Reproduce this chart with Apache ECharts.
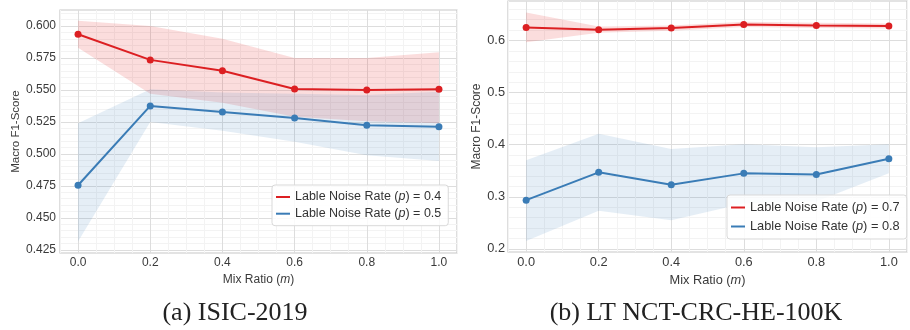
<!DOCTYPE html>
<html>
<head>
<meta charset="utf-8">
<script src="https://cdn.jsdelivr.net/npm/echarts@6/dist/echarts.min.js"></script>
<style>html,body{margin:0;padding:0;background:#fff}#c{width:910px;height:330px}</style>
</head>
<body>
<div id="c"></div>
<script>
// ---- data ----
const mixRatio = [0.0, 0.2, 0.4, 0.6, 0.8, 1.0];
const xTickLabels = [0.0, 0.2, 0.4, 0.6, 0.8, 1.0];

// (a) ISIC-2019
const isicNames = ['Lable Noise Rate (p) = 0.4', 'Lable Noise Rate (p) = 0.5'];
const isicP04Mean  = [0.5935, 0.5735, 0.5650, 0.5508, 0.5500, 0.5505];
const isicP04Upper = [0.6040, 0.6000, 0.5900, 0.5750, 0.5750, 0.5795];
const isicP04Lower = [0.5830, 0.5470, 0.5400, 0.5290, 0.5255, 0.5240];
const isicP05Mean  = [0.4755, 0.5375, 0.5328, 0.5281, 0.5224, 0.5213];
const isicP05Upper = [0.5240, 0.5505, 0.5480, 0.5470, 0.5460, 0.5485];
const isicP05Lower = [0.4315, 0.5250, 0.5180, 0.5095, 0.4990, 0.4945];
const isicYTickLabels = [0.425, 0.450, 0.475, 0.500, 0.525, 0.550, 0.575, 0.600];

// (b) LT NCT-CRC-HE-100K
const nctNames = ['Lable Noise Rate (p) = 0.7', 'Lable Noise Rate (p) = 0.8'];
const nctP07Mean  = [0.625, 0.621, 0.624, 0.631, 0.629, 0.628];
const nctP07Upper = [0.654, 0.627, 0.629, 0.636, 0.634, 0.633];
const nctP07Lower = [0.597, 0.615, 0.619, 0.626, 0.624, 0.623];
const nctP08Mean  = [0.2935, 0.347, 0.323, 0.345, 0.343, 0.373];
const nctP08Upper = [0.370, 0.421, 0.392, 0.401, 0.395, 0.401];
const nctP08Lower = [0.215, 0.273, 0.255, 0.287, 0.291, 0.345];
const nctYTickLabels = [0.2, 0.3, 0.4, 0.5, 0.6];

const captions = ['(a) ISIC-2019', '(b) LT NCT-CRC-HE-100K'];

// ---- style ----
const RED = '#dc1f22', BLUE = '#3a7cb6';
const FONT = 'Liberation Sans';
const TXT = '#3a3a3a';
const MAJOR = '#dddddd', MINOR = '#f3f3f3', NONE = 'rgba(0,0,0,0)';

function isTick(list, v) { return list.some(t => Math.abs(t - v) < 1e-7); }

function bandSeries(lo, hi, color, gi) {
  return {
    type: 'custom', xAxisIndex: gi, yAxisIndex: gi, silent: true, z: 1,
    data: mixRatio.map((x, i) => [x, lo[i], hi[i]]),
    encode: { x: 0, y: [1, 2] },
    renderItem: function (params, api) {
      if (params.dataIndex !== 0) return null;
      const n = params.dataInsideLength;
      const top = [], bot = [];
      for (let i = 0; i < n; i++) {
        top.push(api.coord([api.value(0, i), api.value(2, i)]));
        bot.push(api.coord([api.value(0, i), api.value(1, i)]));
      }
      return { type: 'polygon', shape: { points: top.concat(bot.reverse()) }, style: { fill: color } };
    }
  };
}
function lineSeries(name, mean, color, gi) {
  return {
    type: 'line', name: name, xAxisIndex: gi, yAxisIndex: gi, z: 3,
    data: mixRatio.map((x, i) => [x, mean[i]]),
    symbol: 'circle', symbolSize: 7, showSymbol: true,
    lineStyle: { width: 2, color: color }, itemStyle: { color: color }
  };
}

function xAxis(gi, fs) {
  return {
    type: 'value', gridIndex: gi, min: -0.05, max: 1.05, interval: 0.05,
    axisLine: { show: false }, axisTick: { show: false },
    axisLabel: { margin: 4, fontSize: fs, color: TXT, fontFamily: FONT,
      formatter: v => isTick(xTickLabels, v) ? v.toFixed(1) : '' },
    splitLine: { show: true, lineStyle: { width: 1, color: [MINOR, MAJOR, MINOR, MINOR] } },
    name: '{a|Mix Ratio (}{b|m}{a|)}', nameLocation: 'middle', nameGap: 14,
    nameTextStyle: { rich: {
      a: { fontSize: fs, color: TXT, fontFamily: FONT },
      b: { fontSize: fs, color: TXT, fontFamily: FONT, fontStyle: 'italic' } } }
  };
}

const isicColors = [];
for (let i = 0; i < 10; i++) isicColors.push(i === 1 ? MAJOR : (i % 2 === 1 ? MINOR : NONE));
const nctColors = [];
for (let i = 0; i < 50; i++) nctColors.push(i === 3 ? MAJOR : ((i - 3) % 10 === 0 ? MINOR : NONE));

function legend(names, left, top, fs, lh, gap) {
  return {
    data: names, left: left, top: top, orient: 'vertical',
    icon: 'rect', itemWidth: 14, itemHeight: 2, itemGap: gap,
    padding: [5, 7, 5, 4],
    backgroundColor: 'rgba(255,255,255,0.85)', borderColor: '#d9d9d9', borderWidth: 1, borderRadius: 3,
    formatter: n => n.replace('(p)', '({i|p})'),
    textStyle: { fontSize: fs, color: '#333', fontFamily: FONT, lineHeight: lh,
      rich: { i: { fontSize: fs, color: '#333', fontFamily: FONT, fontStyle: 'italic', lineHeight: lh } } }
  };
}

const option = {
  animation: false,
  backgroundColor: '#ffffff',
  grid: [
    { left: 60, top: 10, width: 397, height: 243, show: true, borderColor: '#c8c8c8', borderWidth: 1.2, backgroundColor: '#fff' },
    { left: 508, top: 1, width: 410, height: 251, show: true, borderColor: '#c8c8c8', borderWidth: 1.2, backgroundColor: '#fff' }
  ],
  xAxis: [xAxis(0, 12), xAxis(1, 12.8)],
  yAxis: [
    { type: 'value', gridIndex: 0, min: 0.4225, max: 0.6125, interval: 0.0025,
      axisLine: { show: false }, axisTick: { show: false },
      axisLabel: { margin: 4, fontSize: 12, color: TXT, fontFamily: FONT,
        formatter: v => isTick(isicYTickLabels, v) ? v.toFixed(3) : '' },
      splitLine: { show: true, lineStyle: { width: 1, color: isicColors } },
      name: 'Macro F1-Score', nameLocation: 'middle', nameGap: 31,
      nameTextStyle: { fontSize: 11.5, color: TXT, fontFamily: FONT } },
    { type: 'value', gridIndex: 1, min: 0.194, max: 0.676, interval: 0.002,
      axisLine: { show: false }, axisTick: { show: false },
      axisLabel: { margin: 3, fontSize: 12.8, color: TXT, fontFamily: FONT,
        formatter: v => isTick(nctYTickLabels, v) ? v.toFixed(1) : '' },
      splitLine: { show: true, lineStyle: { width: 1, color: nctColors } },
      name: 'Macro F1-Score', nameLocation: 'middle', nameGap: 25,
      nameTextStyle: { fontSize: 12, color: TXT, fontFamily: FONT } }
  ],
  legend: [
    legend(isicNames, 272, 185, 12.5, 14, 2.7),
    legend(nctNames, 727, 195, 12.8, 15, 4)
  ],
  graphic: [
    { type: 'text', x: 235, y: 313, style: { text: captions[0], fill: '#222', font: '26px "Liberation Serif"', textAlign: 'center', textVerticalAlign: 'middle' } },
    { type: 'text', x: 696, y: 313, style: { text: captions[1], fill: '#222', font: '26px "Liberation Serif"', textAlign: 'center', textVerticalAlign: 'middle' } }
  ],
  series: [
    bandSeries(isicP04Lower, isicP04Upper, 'rgba(228,26,28,0.15)', 0),
    bandSeries(isicP05Lower, isicP05Upper, 'rgba(55,126,184,0.13)', 0),
    lineSeries(isicNames[0], isicP04Mean, RED, 0),
    lineSeries(isicNames[1], isicP05Mean, BLUE, 0),
    bandSeries(nctP07Lower, nctP07Upper, 'rgba(228,26,28,0.15)', 1),
    bandSeries(nctP08Lower, nctP08Upper, 'rgba(55,126,184,0.13)', 1),
    lineSeries(nctNames[0], nctP07Mean, RED, 1),
    lineSeries(nctNames[1], nctP08Mean, BLUE, 1)
  ]
};
const chart = echarts.init(document.getElementById('c'), null, { renderer: 'canvas' });
chart.setOption(option);
</script>
</body>
</html>
